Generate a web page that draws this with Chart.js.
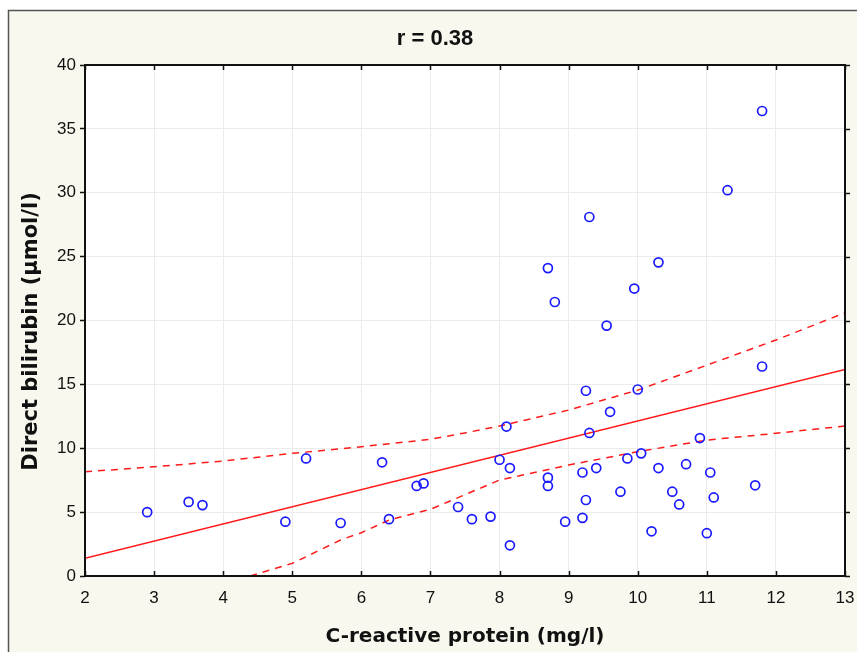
<!DOCTYPE html>
<html>
<head>
<meta charset="utf-8">
<script src="https://cdn.jsdelivr.net/npm/chart.js@4.4.0/dist/chart.umd.min.js"></script>
<style>
  html, body { margin: 0; padding: 0; background: #fff; }
</style>
</head>
<body>
<canvas id="chart" width="857" height="652"></canvas>
<script>
// --- data ---
const crp = [2.9, 3.5, 3.7, 4.9, 5.2, 5.7, 6.3, 6.4, 6.8, 6.9, 7.4, 7.6,
  7.87, 8.1, 8.0, 8.15, 8.15, 8.7, 8.7, 8.95, 9.2, 9.25, 9.2, 9.25, 9.3, 9.4,
  9.6, 9.75, 9.85, 10.0, 10.05, 10.2, 10.3, 10.5, 10.6, 10.7, 10.9, 11.0,
  11.05, 11.1, 11.7,
  11.8, 11.3, 9.3, 8.7, 8.8, 10.3, 9.95, 9.55, 11.8];
const bilirubin = [5.0, 5.8, 5.55, 4.25, 9.2, 4.15, 8.9, 4.45, 7.05, 7.25, 5.4, 4.45,
  4.65, 11.7, 9.1, 8.45, 2.4, 7.7, 7.05, 4.25, 4.55, 14.5, 8.1, 5.95, 11.2, 8.45,
  12.85, 6.6, 9.2, 14.6, 9.6, 3.5, 8.45, 6.6, 5.6, 8.75, 10.8, 3.35,
  8.1, 6.15, 7.1,
  36.4, 30.2, 28.1, 24.1, 21.45, 24.55, 22.5, 19.6, 16.4];

// regression line and 95% confidence band
const fitX = [2, 13];
const fitY = [1.38, 16.17];
const upperX = [2, 3, 4, 5, 6, 7, 7.5, 8, 9, 10, 11, 12, 13];
const upperY = [8.16, 8.55, 9.0, 9.6, 10.12, 10.7, 11.2, 11.74, 12.99, 14.55, 16.5, 18.47, 20.6];
const lowerX = [4.39, 5, 5.7, 6, 6.4, 7, 7.45, 8, 9, 10, 11, 12, 13];
const lowerY = [0, 0.99, 2.82, 3.39, 4.38, 5.22, 6.25, 7.51, 8.69, 9.73, 10.64, 11.17, 11.74];

const xTicks = [2, 3, 4, 5, 6, 7, 8, 9, 10, 11, 12, 13];
const yTicks = [0, 5, 10, 15, 20, 25, 30, 35, 40];

const toPoints = (xs, ys) => xs.map((x, i) => ({ x: x, y: ys[i] }));

// frame, cream background, title and extra tick marks (top/right/bottom)
const framePlugin = {
  id: 'frame',
  beforeDraw(chart) {
    const ctx = chart.ctx;
    const a = chart.chartArea;
    ctx.save();
    ctx.fillStyle = '#ffffff';
    ctx.fillRect(0, 0, chart.width, chart.height);
    ctx.fillStyle = '#f9f8ee';
    ctx.fillRect(8, 10, chart.width, chart.height);
    ctx.strokeStyle = '#555555';
    ctx.lineWidth = 1.5;
    ctx.strokeRect(8.5, 10.5, chart.width + 10, chart.height + 10);
    ctx.fillStyle = '#ffffff';
    ctx.fillRect(a.left, a.top, a.right - a.left, a.bottom - a.top);
    ctx.restore();
  },
  afterDraw(chart) {
    const ctx = chart.ctx;
    const a = chart.chartArea;
    const xs = chart.scales.x, ys = chart.scales.y;
    ctx.save();
    ctx.strokeStyle = '#111111';
    ctx.lineWidth = 2;
    ctx.strokeRect(a.left, a.top, a.right - a.left, a.bottom - a.top);
    ctx.lineWidth = 1.5;
    ctx.beginPath();
    xTicks.forEach(v => {
      const px = Math.round(xs.getPixelForValue(v)) + 0.5;
      ctx.moveTo(px, a.top); ctx.lineTo(px, a.top + 5);
      ctx.moveTo(px, a.bottom); ctx.lineTo(px, a.bottom - 5);
    });
    yTicks.forEach(v => {
      const py = Math.round(ys.getPixelForValue(v)) + 0.5;
      ctx.moveTo(a.right, py); ctx.lineTo(a.right + 5, py);
    });
    ctx.stroke();
    // chart title
    ctx.fillStyle = '#111111';
    ctx.font = 'bold 22px Arial, "Liberation Sans", sans-serif';
    ctx.textAlign = 'center';
    ctx.textBaseline = 'middle';
    ctx.fillText('r = 0.38', 435, 39);
    ctx.restore();
  }
};

new Chart(document.getElementById('chart').getContext('2d'), {
  type: 'scatter',
  data: {
    datasets: [
      {
        label: 'Data',
        data: toPoints(crp, bilirubin),
        pointStyle: 'circle',
        pointRadius: 4.5,
        pointBorderWidth: 1.7,
        borderColor: '#1a1aff',
        backgroundColor: 'rgba(0,0,0,0)',
        order: 1
      },
      {
        label: 'Fit',
        data: toPoints(fitX, fitY),
        showLine: true,
        pointRadius: 0,
        borderColor: '#ff1a1a',
        borderWidth: 1.5,
        order: 2
      },
      {
        label: 'Upper 95%',
        data: toPoints(upperX, upperY),
        showLine: true,
        pointRadius: 0,
        borderColor: '#ff1a1a',
        borderWidth: 1.5,
        borderDash: [7, 6],
        order: 2
      },
      {
        label: 'Lower 95%',
        data: toPoints(lowerX, lowerY),
        showLine: true,
        pointRadius: 0,
        borderColor: '#ff1a1a',
        borderWidth: 1.5,
        borderDash: [7, 6],
        order: 2
      }
    ]
  },
  options: {
    responsive: false,
    animation: false,
    layout: { padding: { left: 0, right: 12, top: 65, bottom: 0 } },
    plugins: {
      legend: { display: false },
      tooltip: { enabled: false }
    },
    scales: {
      x: {
        type: 'linear',
        min: 2, max: 13,
        afterFit: (scale) => {
          scale.height = 76;
          scale.paddingLeft = 0;
          scale.paddingRight = 0;
        },
        afterBuildTicks: (scale) => { scale.ticks = xTicks.map(v => ({ value: v })); },
        grid: { color: '#ebebeb', lineWidth: 1, drawTicks: false },
        border: { display: false },
        ticks: {
          padding: 12,
          color: '#111111',
          font: { family: 'Arial, "Liberation Sans", sans-serif', size: 17 }
        },
        title: {
          display: true,
          text: 'C-reactive protein (mg/l)',
          color: '#111111',
          font: { family: '"DejaVu Sans", Verdana, sans-serif', size: 20, weight: 'bold' },
          padding: { top: 0, bottom: 3 }
        }
      },
      y: {
        type: 'linear',
        min: 0, max: 40,
        afterFit: (scale) => { scale.width = 85; },
        afterBuildTicks: (scale) => { scale.ticks = yTicks.map(v => ({ value: v })); },
        grid: { color: '#ebebeb', lineWidth: 1, tickLength: 5, tickColor: '#111111', tickWidth: 1.5 },
        border: { display: false },
        ticks: {
          padding: 4,
          color: '#111111',
          font: { family: 'Arial, "Liberation Sans", sans-serif', size: 17 }
        },
        title: {
          display: true,
          text: 'Direct bilirubin (µmol/l)\u00a0\u00a0\u00a0',
          color: '#111111',
          font: { family: '"DejaVu Sans", Verdana, sans-serif', size: 21, weight: 'bold' },
          padding: { top: 19, bottom: 0 }
        }
      }
    }
  },
  plugins: [framePlugin]
});
</script>
</body>
</html>
